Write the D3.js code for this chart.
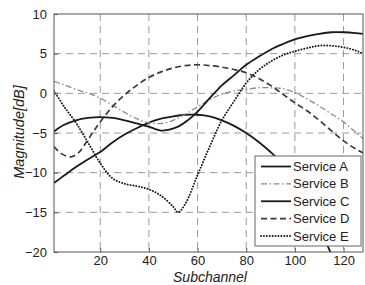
<!DOCTYPE html>
<html>
<head>
<meta charset="utf-8">
<script src="https://cdn.jsdelivr.net/npm/d3@7"></script>
<style>
  html, body { margin: 0; padding: 0; background: #fff; }
  svg { display: block; font-family: "Liberation Sans", Arial, sans-serif; }
</style>
</head>
<body>
<svg id="chart" width="365" height="285"></svg>
<script>
// ---- data ----
const xTicks = [20, 40, 60, 80, 100, 120];
const yTicks = [-20, -15, -10, -5, 0, 5, 10];
const seriesNames = ["Service A", "Service B", "Service C", "Service D", "Service E"];

const serviceA_x = [1, 5, 10, 15, 20, 25, 30, 35, 40, 45, 50, 55, 60, 65, 70, 75, 80, 85, 90, 95, 100, 105, 110, 114, 117];
const serviceA_y = [-11.3, -10.4, -9.3, -8.3, -7.4, -6.2, -5.2, -4.4, -3.7, -3.2, -2.9, -2.7, -2.7, -2.9, -3.4, -4.1, -5.0, -6.1, -7.4, -8.9, -10.9, -13.3, -16.3, -19.6, -21.5];

const serviceB_x = [1, 5, 10, 15, 20, 25, 30, 35, 40, 45, 50, 55, 60, 65, 70, 75, 80, 85, 90, 95, 100, 105, 110, 115, 120, 125, 128];
const serviceB_y = [1.5, 1.1, 0.5, 0.0, -0.6, -1.5, -2.4, -3.2, -3.7, -3.8, -3.4, -2.6, -1.7, -0.8, -0.1, 0.3, 0.5, 0.7, 0.7, 0.6, 0.1, -0.7, -1.6, -2.6, -3.6, -4.9, -5.7];

const serviceC_x = [1, 5, 10, 15, 20, 25, 30, 35, 40, 45, 48, 52, 56, 60, 65, 70, 75, 80, 85, 90, 95, 100, 105, 110, 115, 120, 125, 128];
const serviceC_y = [-4.8, -4.0, -3.4, -3.1, -3.0, -3.1, -3.4, -3.8, -4.2, -4.7, -4.6, -4.2, -3.4, -2.3, -0.6, 1.0, 2.3, 3.6, 4.6, 5.5, 6.2, 6.8, 7.2, 7.5, 7.7, 7.7, 7.6, 7.5];

const serviceD_x = [1, 4, 8, 11, 14, 17, 20, 25, 30, 35, 40, 45, 50, 55, 60, 65, 70, 75, 80, 85, 90, 95, 100, 105, 110, 115, 120, 125, 128];
const serviceD_y = [-6.7, -7.6, -8.0, -7.5, -6.3, -4.9, -3.6, -1.7, -0.2, 1.0, 2.0, 2.7, 3.2, 3.5, 3.6, 3.5, 3.3, 3.0, 2.6, 1.9, 1.0, -0.1, -1.2, -2.2, -3.4, -4.7, -6.0, -7.0, -7.5];

const serviceE_x = [1, 5, 10, 15, 20, 25, 30, 35, 40, 45, 50, 52, 55, 60, 65, 70, 75, 80, 85, 90, 95, 100, 105, 110, 115, 120, 125, 128];
const serviceE_y = [0.3, -1.6, -3.7, -6.2, -8.8, -10.7, -11.4, -11.7, -12.1, -12.9, -14.3, -15.0, -13.9, -10.3, -6.7, -3.4, -1.0, 1.3, 2.9, 4.0, 4.8, 5.3, 5.7, 6.0, 6.0, 5.8, 5.4, 5.0];

// ---- layout ----
const svg = d3.select("#chart");
const pL = 54, pR = 363, pT = 14, pB = 252;

const x = d3.scaleLinear().domain([1, 128]).range([pL, pR]);
const y = d3.scaleLinear().domain([-20, 10]).range([pB, pT]);

const styles = [
  { stroke: "#1a1a1a", width: 1.8, dash: null, cap: "butt" },
  { stroke: "#8a8a8a", width: 1.3, dash: "6,2.5,1.5,2.5", cap: "butt" },
  { stroke: "#1a1a1a", width: 1.8, dash: null, cap: "butt" },
  { stroke: "#3a3a3a", width: 1.7, dash: "6,3.5", cap: "butt" },
  { stroke: "#1a1a1a", width: 1.9, dash: "0.1,2.8", cap: "round" }
];

const series = [
  serviceA_x.map((v, i) => [v, serviceA_y[i]]),
  serviceB_x.map((v, i) => [v, serviceB_y[i]]),
  serviceC_x.map((v, i) => [v, serviceC_y[i]]),
  serviceD_x.map((v, i) => [v, serviceD_y[i]]),
  serviceE_x.map((v, i) => [v, serviceE_y[i]])
];

// clip
svg.append("defs").append("clipPath").attr("id", "plotclip")
  .append("rect").attr("x", pL).attr("y", pT).attr("width", pR - pL).attr("height", pB - pT);

// background
svg.append("rect").attr("x", pL).attr("y", pT).attr("width", pR - pL).attr("height", pB - pT).attr("fill", "#fff");

// grid
const grid = svg.append("g").attr("stroke", "#9a9a9a").attr("stroke-width", 1).attr("stroke-dasharray", "7,5");
grid.selectAll("line.gx").data(xTicks).join("line").attr("class", "gx")
  .attr("x1", d => x(d)).attr("x2", d => x(d)).attr("y1", pT).attr("y2", pB);
grid.selectAll("line.gy").data(yTicks.filter(d => d > -20 && d < 10)).join("line").attr("class", "gy")
  .attr("x1", pL).attr("x2", pR).attr("y1", d => y(d)).attr("y2", d => y(d));

// lines
const line = d3.line().x(d => x(d[0])).y(d => y(d[1])).curve(d3.curveCatmullRom.alpha(0.5));
const lines = svg.append("g").attr("clip-path", "url(#plotclip)");
series.forEach((s, i) => {
  const st = styles[i];
  lines.append("path").datum(s)
    .attr("d", line)
    .attr("fill", "none")
    .attr("stroke", st.stroke)
    .attr("stroke-width", st.width)
    .attr("stroke-linecap", st.cap)
    .attr("stroke-dasharray", st.dash);
});

// axes
const xAxis = d3.axisBottom(x).tickValues(xTicks).tickSize(-4).tickPadding(4);
const yAxis = d3.axisLeft(y).tickValues(yTicks).tickSize(-4).tickPadding(7);

const gx = svg.append("g").attr("transform", `translate(0,${pB})`).call(xAxis);
const gy = svg.append("g").attr("transform", `translate(${pL},0)`).call(yAxis);
[gx, gy].forEach(g => {
  g.select(".domain").remove();
  g.selectAll(".tick line").attr("stroke", "#555");
  g.selectAll("text").attr("font-size", 13).attr("fill", "#222")
    .attr("font-family", "'Liberation Sans', Arial, sans-serif");
});

// frame
svg.append("rect").attr("x", pL).attr("y", pT).attr("width", pR - pL).attr("height", pB - pT)
  .attr("fill", "none").attr("stroke", "#555").attr("stroke-width", 1);

// axis labels
svg.append("text").attr("x", 210).attr("y", 282).attr("text-anchor", "middle")
  .attr("font-size", 14).attr("font-style", "italic").attr("fill", "#222").text("Subchannel");
svg.append("text").attr("transform", "translate(24,132) rotate(-90)").attr("text-anchor", "middle")
  .attr("font-size", 14.5).attr("font-style", "italic").attr("fill", "#222").text("Magnitude[dB]");

// legend
const lg = svg.append("g");
lg.append("rect").attr("x", 255).attr("y", 156).attr("width", 106).attr("height", 90)
  .attr("fill", "#fff").attr("stroke", "#666").attr("stroke-width", 1);
const ly = d3.scalePoint().domain(seriesNames).range([166.5, 236]);
seriesNames.forEach((name, i) => {
  const st = styles[i];
  lg.append("line").attr("x1", 261).attr("x2", 291).attr("y1", ly(name)).attr("y2", ly(name))
    .attr("stroke", st.stroke).attr("stroke-width", st.width)
    .attr("stroke-linecap", st.cap).attr("stroke-dasharray", st.dash);
  lg.append("text").attr("x", 293).attr("y", ly(name) + 4.5).attr("font-size", 13)
    .attr("fill", "#222").text(name);
});
</script>
</body>
</html>
